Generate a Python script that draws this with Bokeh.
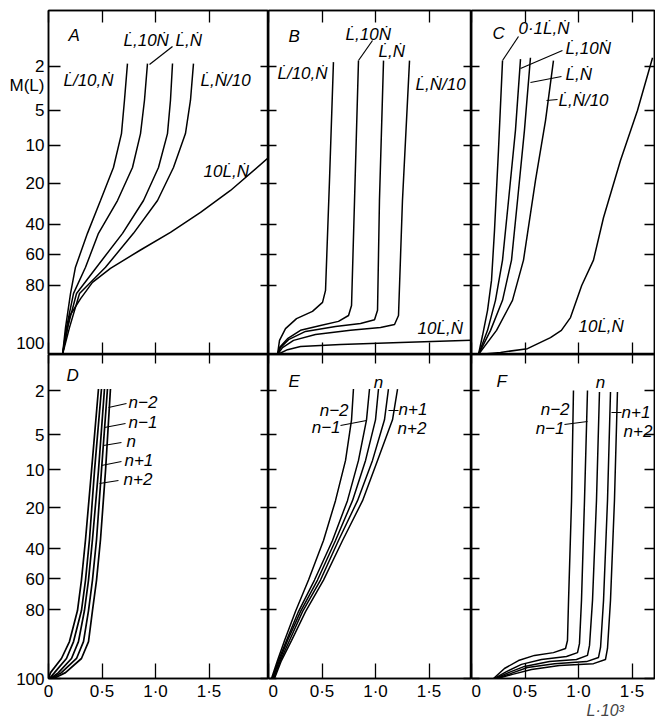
import numpy as np
from bokeh.plotting import figure
from bokeh.models import FixedTicker, LinearAxis, Label, Range1d, Title
from bokeh.layouts import column, row
from bokeh.embed import file_html
from bokeh.resources import INLINE

FONT = "Liberation Sans"
LD = "L\u0307"
ND = "N\u0307"

# ---------------- scales ----------------
# M(L) is drawn on a non-linear (probability-type) paper scale
M_TICKS = [2, 5, 10, 20, 40, 60, 80, 100]
M_SCALE = [288, 244, 209, 171, 130, 100, 69, 0]
L_TICKS = [0, 0.5, 1.0, 1.5]
L_LABELS = ["0", "0\u00b75", "1\u00b70", "1\u00b75"]
Y_TITLE = "M(L)"
Y_TITLE_POS = 269
X_TITLE = "L\u00b710\u00b3"

# ---------------- data (L*10^3 versus M(L) %) ----------------
# Panel A
A_M = [1.8, 4.3, 8.3, 15.8, 28.3, 45.9, 68.2, 82.3, 92.2, 100]
A1_L = [0.738, 0.710, 0.682, 0.607, 0.486, 0.364, 0.252, 0.206, 0.159, 0.131]
A2_L = [0.925, 0.897, 0.860, 0.785, 0.645, 0.467, 0.346, 0.234, 0.168, 0.131]
A3_L = [1.159, 1.140, 1.112, 1.028, 0.888, 0.692, 0.449, 0.262, 0.178, 0.131]
A4_L = [1.355, 1.327, 1.280, 1.168, 1.019, 0.794, 0.533, 0.290, 0.196, 0.131]
A5_L = [2.056, 1.701, 1.421, 1.140, 0.860, 0.579, 0.411, 0.300, 0.200, 0.131]
A5_M = [13.2, 23.4, 34.1, 45.2, 57.0, 68.9, 78.0, 83.8, 88.7, 100]

# Panel B
B1_L = [0.607, 0.570, 0.533, 0.505, 0.411, 0.262, 0.159, 0.103, 0.084]
B1_M = [1.7, 19.2, 81.4, 84.9, 87.5, 89.6, 92.5, 95.9, 100]
B2_L = [0.841, 0.804, 0.776, 0.748, 0.654, 0.486, 0.299, 0.178, 0.103, 0.084]
B2_M = [1.6, 28.3, 85.8, 88.7, 90.4, 91.6, 93.0, 95.4, 98.0, 100]
B3_L = [1.075, 1.037, 1.019, 0.991, 0.860, 0.626, 0.346, 0.187, 0.112, 0.084]
B3_M = [1.6, 28.3, 87.2, 89.9, 91.0, 91.9, 93.3, 95.7, 98.0, 100]
B4_L = [1.318, 1.252, 1.215, 1.178, 1.047, 0.766, 0.439, 0.234, 0.131, 0.084]
B4_M = [1.6, 28.3, 88.7, 91.3, 92.2, 93.0, 94.2, 95.9, 98.0, 100]
B5_L = [0.084, 0.178, 0.299, 0.673, 1.234, 1.897]
B5_M = [100, 98.6, 97.7, 97.1, 96.5, 95.9]

# Panel C
C1_L = [0.290, 0.252, 0.215, 0.187, 0.150, 0.103, 0.065]
C1_M = [1.6, 11.3, 43.9, 76.7, 87.2, 94.5, 100]
C2_L = [0.458, 0.411, 0.346, 0.290, 0.224, 0.150, 0.065]
C2_M = [1.5, 7.8, 28.3, 63.6, 84.3, 93.0, 100]
C3_L = [0.551, 0.495, 0.430, 0.374, 0.290, 0.178, 0.065]
C3_M = [1.4, 7.8, 28.3, 63.6, 84.3, 93.0, 100]
C4_L = [0.766, 0.692, 0.598, 0.486, 0.383, 0.234, 0.065]
C4_M = [1.6, 6.4, 19.2, 63.6, 84.3, 93.0, 100]
C5_L = [1.692, 1.551, 1.393, 1.234, 1.140, 1.030, 0.925, 0.840, 0.738, 0.523, 0.271, 0.065]
C5_M = [1.4, 5.0, 13.9, 36.6, 63.6, 80.0, 89.3, 93.0, 95.1, 98.3, 99.4, 100]

# Panel D
D_M = [1.9, 10.3, 35.6, 61.0, 80.3, 89.3, 94.2, 98.3, 100]
D1_L = [0.467, 0.402, 0.346, 0.308, 0.271, 0.196, 0.121, 0.019, 0.000]
D2_L = [0.495, 0.430, 0.383, 0.346, 0.308, 0.234, 0.168, 0.056, 0.009]
D3_L = [0.523, 0.467, 0.411, 0.374, 0.336, 0.280, 0.215, 0.093, 0.019]
D4_L = [0.551, 0.495, 0.449, 0.411, 0.374, 0.327, 0.262, 0.121, 0.028]
D5_L = [0.579, 0.533, 0.486, 0.449, 0.411, 0.374, 0.308, 0.159, 0.047]

# Panel E
E_M = [1.9, 4.0, 8.7, 18.2, 36.1, 61.0, 80.6, 89.0, 94.8, 100]
E1_L = [0.794, 0.776, 0.720, 0.626, 0.514, 0.374, 0.252, 0.150, 0.084, 0.028]
E2_L = [0.944, 0.916, 0.841, 0.738, 0.598, 0.430, 0.280, 0.168, 0.093, 0.037]
E3_L = [1.028, 1.000, 0.907, 0.785, 0.626, 0.458, 0.299, 0.178, 0.103, 0.037]
E4_L = [1.121, 1.084, 0.972, 0.832, 0.654, 0.486, 0.318, 0.196, 0.112, 0.047]
E5_L = [1.206, 1.159, 1.019, 0.879, 0.692, 0.514, 0.346, 0.215, 0.121, 0.056]

# Panel F
F1_L = [0.953, 0.935, 0.907, 0.897, 0.879, 0.766, 0.589, 0.439, 0.308, 0.206]
F1_M = [2.0, 18.2, 74.1, 89.0, 91.3, 92.5, 93.3, 94.8, 97.1, 100]
F2_L = [1.084, 1.056, 1.028, 1.009, 0.991, 0.888, 0.654, 0.467, 0.327, 0.215]
F2_M = [2.0, 18.2, 74.1, 89.9, 92.5, 93.6, 94.5, 95.9, 98.0, 100]
F3_L = [1.196, 1.168, 1.131, 1.103, 1.084, 0.981, 0.729, 0.495, 0.346, 0.224]
F3_M = [2.1, 18.2, 74.1, 90.4, 93.3, 94.5, 95.1, 96.5, 98.3, 100]
F4_L = [1.299, 1.271, 1.234, 1.206, 1.187, 1.075, 0.776, 0.523, 0.364, 0.234]
F4_M = [2.1, 18.2, 74.1, 91.0, 93.9, 95.1, 95.7, 96.8, 98.6, 100]
F5_L = [1.364, 1.336, 1.299, 1.271, 1.252, 1.140, 0.822, 0.561, 0.383, 0.243]
F5_M = [2.1, 18.2, 74.1, 91.3, 94.5, 95.7, 96.2, 97.4, 98.8, 100]

# curve labels: (text, L, scale position, align)
A_LABELS = [("A", 0.187, 319, "left"), (LD + "/10," + ND, 0.140, 274, "left"),
            (LD + ",10" + ND, 0.701, 314, "left"), (LD + "," + ND, 1.187, 314, "left"),
            (LD + "," + ND + "/10", 1.421, 274, "left"), ("10" + LD + "," + ND, 1.449, 183, "left")]
B_LABELS = [("B", 0.187, 318, "left"), (LD + "/10," + ND, 0.084, 281, "left"),
            (LD + ",10" + ND, 0.720, 320, "left"), (LD + "," + ND, 1.028, 303, "left"),
            (LD + "," + ND + "/10", 1.374, 270, "left"), ("10" + LD + "," + ND, 1.393, 26, "left")]
C_LABELS = [("C", 0.196, 321, "left"), ("0\u00b71" + LD + "," + ND, 0.439, 326, "left"),
            (LD + ",10" + ND, 0.879, 306, "left"), (LD + "," + ND, 0.879, 280, "left"),
            (LD + "," + ND + "/10", 0.813, 254, "left"), ("10" + LD + "," + ND, 1.0, 28, "left")]
D_LABELS = [("D", 0.168, 303, "left"), ("n\u22122", 0.748, 276, "left"), ("n\u22121", 0.748, 256, "left"),
            ("n", 0.729, 237, "left"), ("n+1", 0.710, 218, "left"), ("n+2", 0.701, 199, "left")]
E_LABELS = [("E", 0.187, 297, "left"), ("n", 1.028, 296, "center"), ("n\u22122", 0.748, 268, "right"),
            ("n\u22121", 0.673, 251, "right"), ("n+1", 1.215, 269, "left"), ("n+2", 1.206, 250, "left")]
F_LABELS = [("F", 0.234, 297, "left"), ("n", 1.206, 296, "center"), ("n\u22122", 0.916, 269, "right"),
            ("n\u22121", 0.869, 250, "right"), ("n+1", 1.402, 266, "left"), ("n+2", 1.421, 247, "left")]

# leader lines (L0, pos0, L1, pos1)
A_LEAD = [(0.944, 290, 1.159, 308)]
B_LEAD = [(0.841, 294, 0.972, 314)]
C_LEAD = [(0.290, 294, 0.439, 318), (0.458, 286, 0.850, 304), (0.551, 272, 0.841, 278), (0.701, 254, 0.804, 255)]
D_LEAD = [(0.561, 271, 0.729, 275), (0.523, 251, 0.720, 255), (0.514, 233, 0.682, 236),
          (0.495, 213, 0.682, 217), (0.477, 195, 0.654, 198)]
E_LEAD = [(0.673, 253, 0.916, 258), (1.121, 268, 1.215, 268)]
F_LEAD = [(0.869, 254, 1.084, 257), (1.308, 266, 1.402, 266)]


def mpos(m):
    m = np.asarray(m, dtype=float)
    pos = np.interp(m, M_TICKS, M_SCALE)
    slope = (M_SCALE[1] - M_SCALE[0]) / (M_TICKS[1] - M_TICKS[0])
    low = m < M_TICKS[0]
    pos[low] = M_SCALE[0] + (m[low] - M_TICKS[0]) * slope
    return pos


PXL = 107.0  # pixels per unit of L*10^3


def tick_axis(ticks, tick_in):
    ax = LinearAxis(ticker=FixedTicker(ticks=ticks, minor_ticks=[]))
    ax.major_tick_in = tick_in
    ax.major_tick_out = 0
    ax.minor_tick_in = 0
    ax.minor_tick_out = 0
    ax.axis_line_color = "black"
    ax.axis_line_width = 1.5
    ax.major_tick_line_color = "black"
    ax.major_tick_line_width = 1.3
    ax.major_label_text_font_size = "0px"
    ax.major_label_standoff = 0
    ax.major_label_text_alpha = 0
    return ax


def label_axis(ticks, overrides, standoff):
    ax = LinearAxis(ticker=FixedTicker(ticks=ticks, minor_ticks=[]))
    ax.major_tick_in = 0
    ax.major_tick_out = 0
    ax.minor_tick_in = 0
    ax.minor_tick_out = 0
    ax.axis_line_color = None
    ax.major_tick_line_color = None
    ax.major_label_overrides = overrides
    ax.major_label_text_font = FONT
    ax.major_label_text_font_size = "17px"
    ax.major_label_text_color = "black"
    ax.major_label_standoff = standoff
    return ax


def panel(fw, fh, bl, bt, bb, br, tin):
    p = figure(frame_width=fw, frame_height=fh,
               x_range=Range1d(0, fw / PXL), y_range=Range1d(0, fh),
               x_axis_location=None, y_axis_location=None,
               output_backend="svg", toolbar_location=None,
               min_border_left=bl, min_border_right=br,
               min_border_top=bt, min_border_bottom=bb)
    p.xgrid.visible = False
    p.ygrid.visible = False
    p.outline_line_color = "black"
    p.outline_line_width = 1.5
    p.background_fill_color = "white"
    p.border_fill_color = "white"
    yt = [float(s) for s in M_SCALE]
    p.add_layout(tick_axis(yt, tin[0]), "left")
    p.add_layout(tick_axis(yt, tin[1]), "right")
    p.add_layout(tick_axis(L_TICKS, tin[2]), "above")
    p.add_layout(tick_axis(L_TICKS, tin[3]), "below")
    return p


def draw(p, curves, labels, leads, lw=1.5):
    for L, M in curves:
        p.line(L, mpos(M), line_color="black", line_width=lw)
    for t, x, y, al in labels:
        p.add_layout(Label(x=x, y=y, text=t, text_font=FONT, text_font_size="17px",
                           text_font_style="italic", text_align=al, text_baseline="middle",
                           text_color="black"))
    if leads:
        p.segment([l[0] for l in leads], [l[1] for l in leads],
                  [l[2] for l in leads], [l[3] for l in leads],
                  line_color="black", line_width=1.2)


TOP_H, BOT_H = 344, 324
pa = panel(220, TOP_H, 48, 10, 0, 0, (12, 8, 12, 12))
pb = panel(203, TOP_H, 0, 10, 0, 0, (8, 8, 12, 12))
pc = panel(183, TOP_H, 0, 10, 0, 1, (8, 10, 12, 12))
pd = panel(220, BOT_H, 48, 0, 42, 0, (12, 8, 9, 15))
pe = panel(203, BOT_H, 0, 0, 42, 0, (8, 8, 9, 15))
pf = panel(183, BOT_H, 0, 0, 42, 1, (8, 10, 9, 15))

# y tick labels (left column), including the y title placed at its spot on the scale
top_over = {float(s): str(t) for s, t in zip(M_SCALE, M_TICKS)}
top_over[0.0] = "100\n"
top_over[float(Y_TITLE_POS)] = Y_TITLE
pa.add_layout(label_axis([float(s) for s in M_SCALE] + [float(Y_TITLE_POS)], top_over, 4), "left")
bot_over = {float(s): str(t) for s, t in zip(M_SCALE, M_TICKS)}
pd.add_layout(label_axis([float(s) for s in M_SCALE], bot_over, 4), "left")

# x tick labels (bottom row)
x_over = {float(t): s for t, s in zip(L_TICKS, L_LABELS)}
for p in (pd, pe, pf):
    p.add_layout(label_axis([float(t) for t in L_TICKS], x_over, 3), "below")

pf.add_layout(Title(text=X_TITLE, align="left", offset=115, text_font=FONT,
                    text_font_size="16px", text_font_style="italic", standoff=-7), "below")

draw(pa, [(A1_L, A_M), (A2_L, A_M), (A3_L, A_M), (A4_L, A_M), (A5_L, A5_M)], A_LABELS, A_LEAD)
draw(pb, [(B1_L, B1_M), (B2_L, B2_M), (B3_L, B3_M), (B4_L, B4_M), (B5_L, B5_M)], B_LABELS, B_LEAD)
draw(pc, [(C1_L, C1_M), (C2_L, C2_M), (C3_L, C3_M), (C4_L, C4_M), (C5_L, C5_M)], C_LABELS, C_LEAD)
draw(pd, [(D1_L, D_M), (D2_L, D_M), (D3_L, D_M), (D4_L, D_M), (D5_L, D_M)], D_LABELS, D_LEAD, lw=1.7)
draw(pe, [(E1_L, E_M), (E2_L, E_M), (E3_L, E_M), (E4_L, E_M), (E5_L, E_M)], E_LABELS, E_LEAD)
draw(pf, [(F1_L, F1_M), (F2_L, F2_M), (F3_L, F3_M), (F4_L, F4_M), (F5_L, F5_M)], F_LABELS, F_LEAD)

layout = column(row(pa, pb, pc, spacing=0), row(pd, pe, pf, spacing=0), spacing=0)
open("out.html", "w").write(file_html(layout, INLINE))
